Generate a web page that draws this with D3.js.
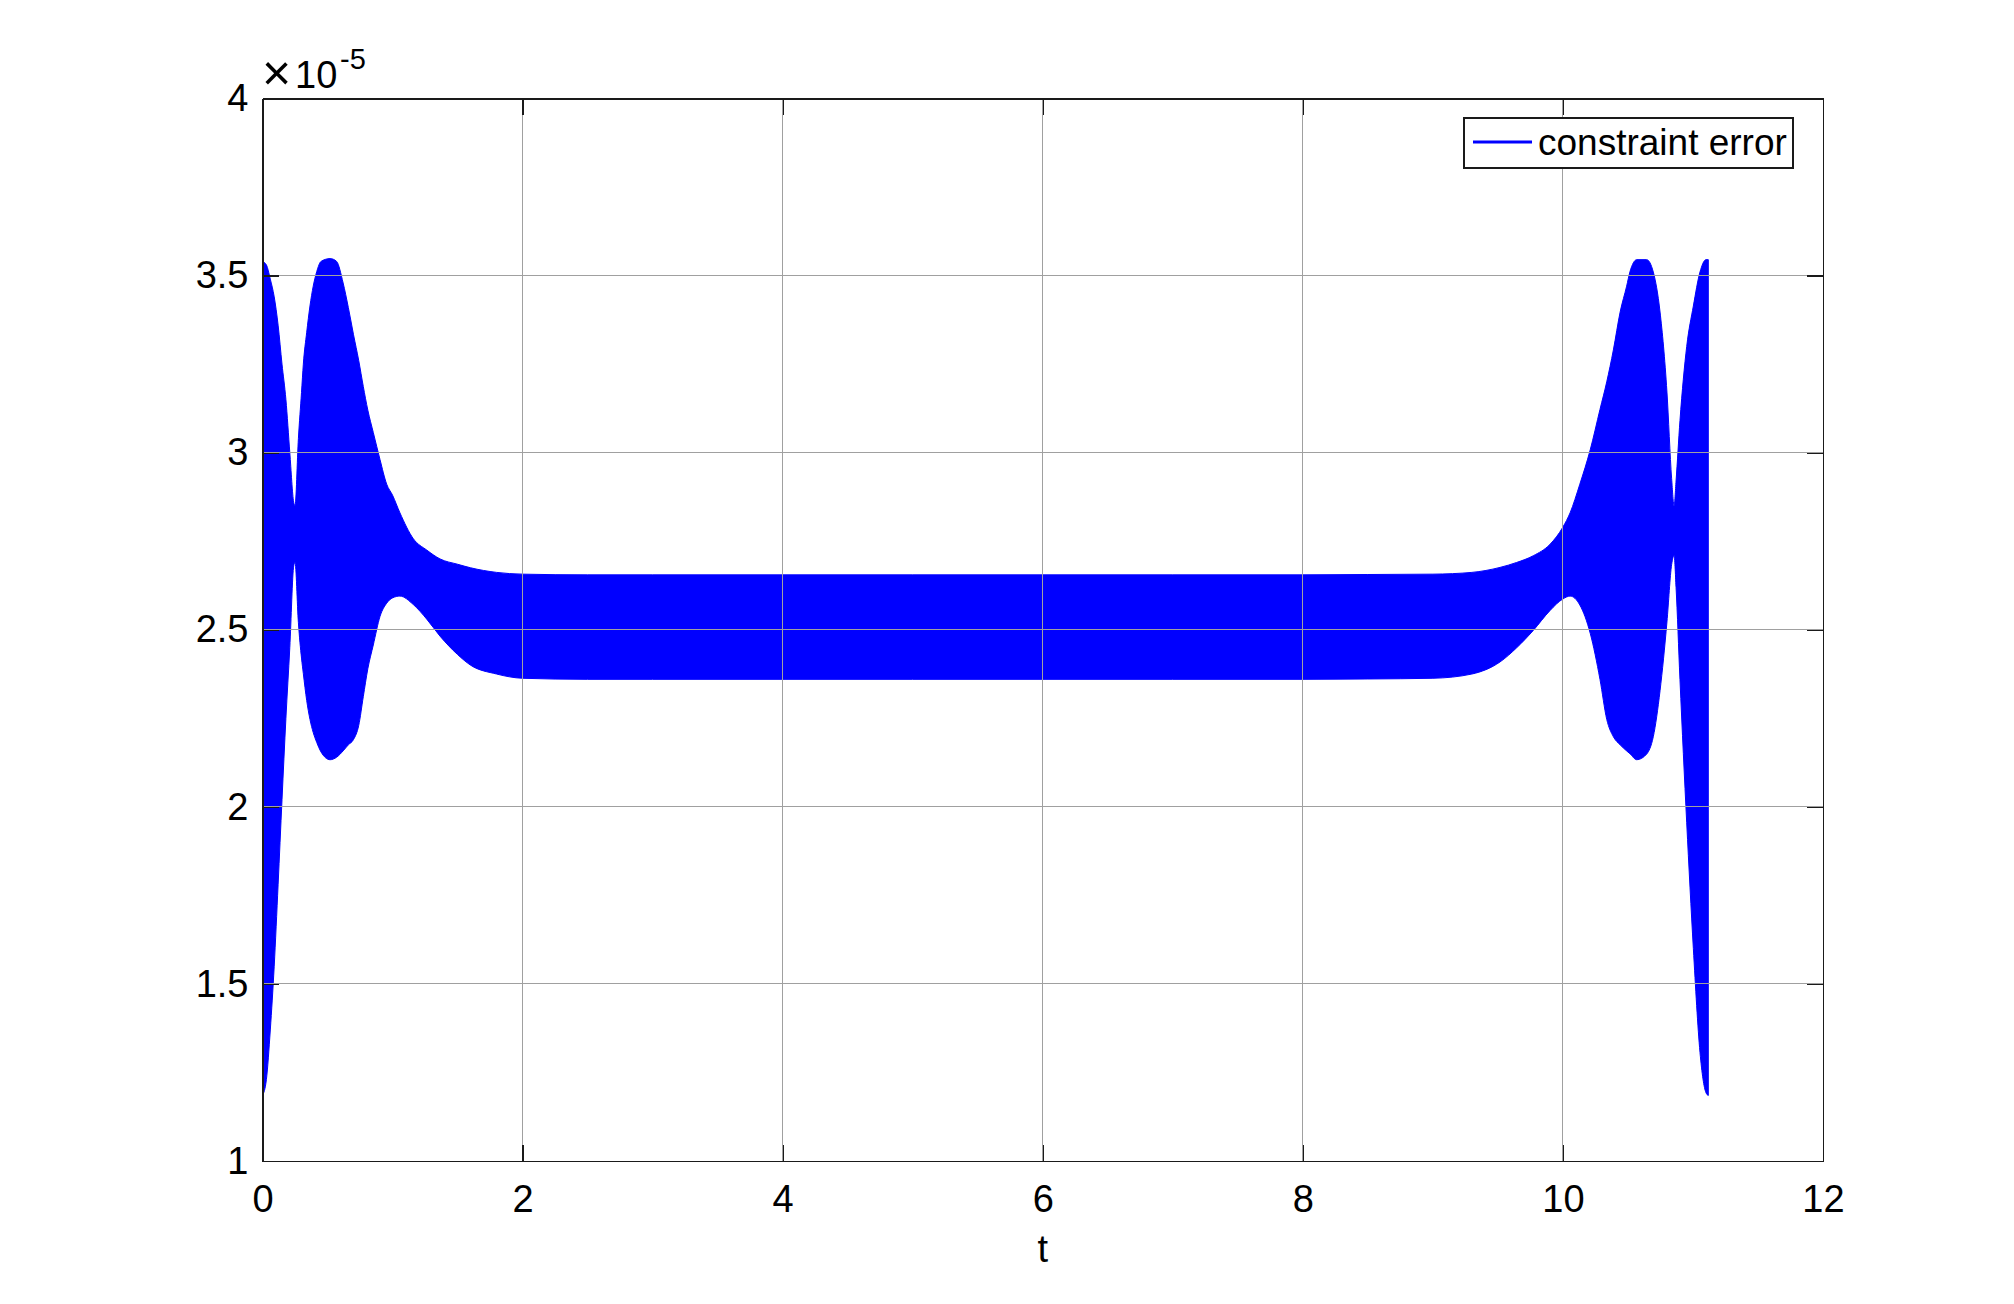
<!DOCTYPE html>
<html>
<head>
<meta charset="utf-8">
<script src="https://cdn.jsdelivr.net/npm/d3@7"></script>
<style>
	body { margin: 0; background: #fff; }
	text { font-family: "Liberation Sans", Arial, Helvetica, sans-serif; fill: #000; }
</style>
</head>
<body>
<div id="chart"></div>
<script>

/***********************************************************************/
//Data (envelope of the oscillating constraint error, units of 1e-5)
/***********************************************************************/
const tValues = [
	0, 0.03, 0.06, 0.09, 0.12, 0.15, 0.18, 0.21, 0.24, 0.25,
	0.276, 0.3, 0.314, 0.34, 0.365, 0.39, 0.417, 0.45, 0.52, 0.57,
	0.62, 0.66, 0.70, 0.74, 0.775, 0.81, 0.852, 0.904, 0.955, 1.0,
	1.057, 1.16, 1.263, 1.365, 1.5, 1.6, 1.8, 2.0, 2.5, 3,
	4, 5, 6, 7, 8, 8.5, 9.0, 9.3, 9.516, 9.644,
	9.772, 9.9, 10.0, 10.055, 10.13, 10.21, 10.285, 10.337, 10.388, 10.44,
	10.49, 10.515, 10.568, 10.644, 10.695, 10.747, 10.80, 10.836, 10.855, 10.87,
	10.9, 10.952, 11.003, 11.054, 11.1, 11.118
]

const upperEnv = [
	3.54, 3.53, 3.49, 3.44, 3.36, 3.25, 3.15, 3.0, 2.86, 2.85,
	3.04, 3.17, 3.25, 3.34, 3.414, 3.47, 3.511, 3.54, 3.548, 3.54,
	3.479, 3.41, 3.333, 3.26, 3.187, 3.12, 3.057, 2.98, 2.911, 2.88,
	2.83, 2.757, 2.725, 2.70, 2.685, 2.675, 2.662, 2.657, 2.655, 2.655,
	2.655, 2.655, 2.655, 2.655, 2.655, 2.656, 2.657, 2.662, 2.676, 2.69,
	2.709, 2.741, 2.79, 2.83, 2.911, 3.008, 3.122, 3.2, 3.29, 3.397,
	3.47, 3.51, 3.545, 3.545, 3.51, 3.397, 3.171, 2.927, 2.85, 2.92,
	3.09, 3.30, 3.414, 3.51, 3.545, 3.545
]

const lowerEnv = [
	1.185, 1.23, 1.37, 1.55, 1.78, 2.02, 2.25, 2.45, 2.68, 2.69,
	2.52, 2.42, 2.376, 2.30, 2.247, 2.21, 2.182, 2.155, 2.133, 2.14,
	2.158, 2.175, 2.19, 2.23, 2.311, 2.39, 2.457, 2.538, 2.575, 2.59,
	2.595, 2.571, 2.53, 2.482, 2.43, 2.40, 2.375, 2.363, 2.36, 2.36,
	2.36, 2.36, 2.36, 2.36, 2.36, 2.361, 2.363, 2.375, 2.409, 2.449,
	2.498, 2.554, 2.587, 2.595, 2.57, 2.49, 2.36, 2.247, 2.198, 2.175,
	2.158, 2.15, 2.133, 2.149, 2.198, 2.328, 2.522, 2.684, 2.71, 2.62,
	2.36, 1.955, 1.60, 1.307, 1.193, 1.185
]

const xTickValues = [0, 2, 4, 6, 8, 10, 12]
const yTickValues = [1, 1.5, 2, 2.5, 3, 3.5, 4]
const legendLabel = 'constraint error'
const xLabel = 't'

/***********************************************************************/
//Plot Area
/***********************************************************************/
const width = 2014
const height = 1304
const margin = { left : 262.5, right : 191, top : 98.5, bottom : 143 }

const plotAreaWidth = width - margin.left - margin.right
const plotAreaHeight = height - margin.top - margin.bottom

const fontSize = 38
const tickLen = 16

const svg = d3.select('#chart')
	.append('svg')
	.attr('width', width)
	.attr('height', height)

const g = svg.append('g')
	.attr('transform', 'translate(' + margin.left + ',' + margin.top + ')')

/***********************************************************************/
//Scale
/***********************************************************************/
const xScale = d3.scaleLinear()
	.domain([0, 12])
	.range([0, plotAreaWidth])

const yScale = d3.scaleLinear()
	.domain([1, 4])
	.range([plotAreaHeight, 0])

/***********************************************************************/
//Data band
/***********************************************************************/
const bandData = tValues.map( (t, i) => ({ t, hi : upperEnv[i], lo : lowerEnv[i] }))

const area = d3.area()
	.curve(d3.curveMonotoneX)
	.x(d => xScale(d.t))
	.y0(d => yScale(d.lo))
	.y1(d => yScale(d.hi))

g.append('path')
	.datum(bandData)
	.attr('d', area)
	.attr('fill', '#0000ff')
	.attr('stroke', '#0000ff')
	.attr('stroke-width', 1)

/***********************************************************************/
//Grid (drawn on top of the data, as in the reference)
/***********************************************************************/
const grid = g.append('g').attr('shape-rendering', 'crispEdges')

grid.selectAll('.vgrid')
	.data(xTickValues.slice(1, -1))
	.join('line')
	.attr('x1', d => xScale(d)).attr('x2', d => xScale(d))
	.attr('y1', 0).attr('y2', plotAreaHeight)
	.attr('stroke', '#a0a0a0')

grid.selectAll('.hgrid')
	.data(yTickValues.slice(1, -1))
	.join('line')
	.attr('x1', 0).attr('x2', plotAreaWidth)
	.attr('y1', d => yScale(d)).attr('y2', d => yScale(d))
	.attr('stroke', '#a0a0a0')

/***********************************************************************/
//Axes
/***********************************************************************/
const fmt = d3.format('~g')

const xAxis = d3.axisBottom(xScale)
	.tickValues(xTickValues)
	.tickFormat(fmt)
	.tickSizeInner(-tickLen)
	.tickSizeOuter(0)
	.tickPadding(24)

const yAxis = d3.axisLeft(yScale)
	.tickValues(yTickValues)
	.tickFormat(fmt)
	.tickSizeInner(-tickLen)
	.tickSizeOuter(0)
	.tickPadding(14)

const xTopAxis = d3.axisTop(xScale)
	.tickValues(xTickValues)
	.tickFormat('')
	.tickSizeInner(-tickLen)
	.tickSizeOuter(0)

const yRightAxis = d3.axisRight(yScale)
	.tickValues(yTickValues)
	.tickFormat('')
	.tickSizeInner(-tickLen)
	.tickSizeOuter(0)

const axes = [
	[xAxis, 'translate(0,' + plotAreaHeight + ')'],
	[yAxis, null],
	[xTopAxis, null],
	[yRightAxis, 'translate(' + plotAreaWidth + ',0)']
]

axes.forEach( ([axis, tr]) => {
	const ag = g.append('g')
		.attr('shape-rendering', 'crispEdges')
		.call(axis)
	if (tr) ag.attr('transform', tr)
	ag.selectAll('path.domain').attr('stroke', '#1a1a1a').attr('stroke-width', 1.2)
	ag.selectAll('.tick line').attr('stroke', '#1a1a1a').attr('stroke-width', 1.2)
	ag.selectAll('.tick text')
		.style('font-size', fontSize + 'px')
		.attr('fill', '#000')
		.style('font-family', '"Liberation Sans", Arial, Helvetica, sans-serif')
})

// exponent label
const expLabel = svg.append('text')
	.attr('y', 88)
	.style('font-size', fontSize + 'px')

expLabel.append('tspan').attr('x', 262).attr('y', 90).style('font-size', '50px').style('font-weight', 300).text('\u00d7')
expLabel.append('tspan').attr('x', 295).attr('y', 88).text('10')
expLabel.append('tspan')
	.attr('x', 340)
	.attr('y', 69)
	.style('font-size', '29px')
	.text('-5')

// x label
svg.append('text')
	.attr('x', margin.left + xScale(6))
	.attr('y', 1262)
	.attr('text-anchor', 'middle')
	.style('font-size', fontSize + 'px')
	.text(xLabel)

/***********************************************************************/
//Legend
/***********************************************************************/
const legend = svg.append('g')
	.attr('transform', 'translate(1464,118)')

legend.append('rect')
	.attr('width', 329)
	.attr('height', 50)
	.attr('fill', '#fff')
	.attr('stroke', '#1a1a1a')
	.attr('stroke-width', 1.2)
	.attr('shape-rendering', 'crispEdges')

legend.append('line')
	.attr('x1', 9).attr('x2', 68)
	.attr('y1', 24).attr('y2', 24)
	.attr('stroke', '#0000ff')
	.attr('stroke-width', 3)

legend.append('text')
	.attr('x', 74)
	.attr('y', 37)
	.style('font-size', '37px')
	.text(legendLabel)

</script>
</body>
</html>
